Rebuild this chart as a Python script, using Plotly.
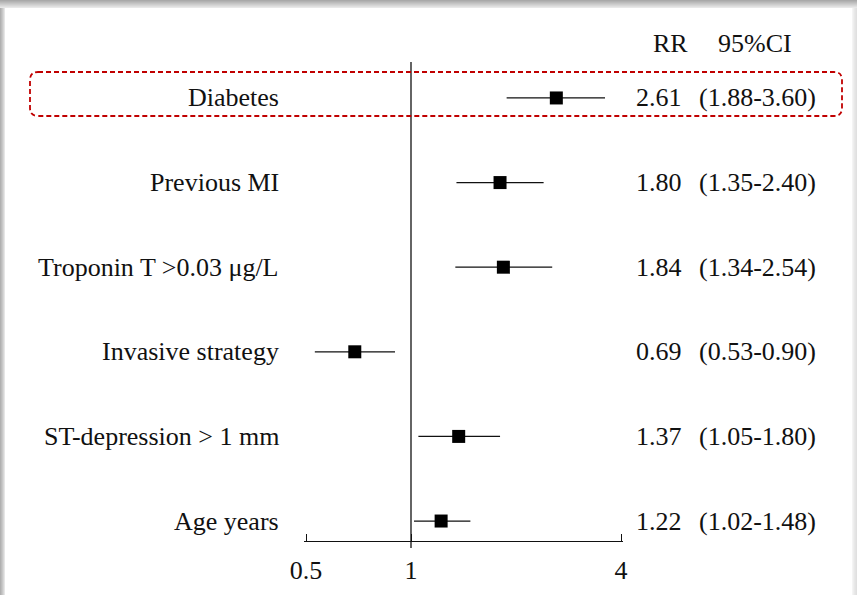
import plotly.graph_objects as go

labels = ["Diabetes", "Previous MI", "Troponin T >0.03 μg/L", "Invasive strategy",
          "ST-depression > 1 mm", "Age years"]
rr = [2.61, 1.80, 1.84, 0.69, 1.37, 1.22]
lo = [1.88, 1.35, 1.34, 0.53, 1.05, 1.02]
hi = [3.60, 2.40, 2.54, 0.90, 1.80, 1.48]
rr_text = ["2.61", "1.80", "1.84", "0.69", "1.37", "1.22"]
ci_text = ["(1.88-3.60)", "(1.35-2.40)", "(1.34-2.54)", "(0.53-0.90)", "(1.05-1.80)", "(1.02-1.48)"]
tick_vals = [0.5, 1, 4]
tick_text = ["0.5", "1", "4"]

n = len(labels)
ypos = [n - 1 - i for i in range(n)]

FONT = "Liberation Serif"
FS = 26
TXT = "#111"

# plot-area geometry (pixels)
L, R, T, B = 304, 857 - 623, 62, 595 - 541
W = 857 - L - R
H = 595 - T - B

def px_x(p):
    return (p - L) / W

def px_y(p):
    return (541 - p) / H

fig = go.Figure()

# whiskers
wx, wy = [], []
for l, h, y in zip(lo, hi, ypos):
    wx += [l, h, None]
    wy += [y, y, None]
fig.add_trace(go.Scatter(x=wx, y=wy, mode="lines", line=dict(color="#111", width=1.3),
                         hoverinfo="skip", showlegend=False, cliponaxis=False))
# squares
fig.add_trace(go.Scatter(x=rr, y=ypos, mode="markers",
                         marker=dict(symbol="square", size=13, color="#000"),
                         showlegend=False, cliponaxis=False))

ann = []
for lab, r, c, y in zip(labels, rr_text, ci_text, ypos):
    ann.append(dict(x=px_x(281), y=y, xref="paper", yref="y", text=lab, showarrow=False,
                    xanchor="right", yanchor="middle", font=dict(family=FONT, size=FS, color=TXT)))
    ann.append(dict(x=px_x(634), y=y, xref="paper", yref="y", text=r, showarrow=False,
                    xanchor="left", yanchor="middle", font=dict(family=FONT, size=FS, color=TXT)))
    ann.append(dict(x=px_x(697), y=y, xref="paper", yref="y", text=c, showarrow=False,
                    xanchor="left", yanchor="middle", font=dict(family=FONT, size=FS, color=TXT)))
ann.append(dict(x=px_x(651), y=px_y(43), xref="paper", yref="paper", text="RR", showarrow=False,
                xanchor="left", yanchor="middle", font=dict(family=FONT, size=FS, color=TXT)))
ann.append(dict(x=px_x(716), y=px_y(43), xref="paper", yref="paper", text="95%CI", showarrow=False,
                xanchor="left", yanchor="middle", font=dict(family=FONT, size=FS, color=TXT)))

shapes = []
# frame shadow (top / left / right)
top_cols = ["#a9a9a9", "#b2b2b2", "#bbbbbb", "#c4c4c4", "#cdcdcd", "#d6d6d6", "#dfdfdf", "#e8e8e8"]
for i, col in enumerate(top_cols):
    shapes.append(dict(type="rect", xref="paper", yref="paper",
                       x0=px_x(0), x1=px_x(857), y0=px_y(i + 1), y1=px_y(i),
                       line=dict(width=0), fillcolor=col, layer="below"))
left_cols = ["#b0b0b0", "#bcbcbc", "#c8c8c8", "#d6d6d6", "#e6e6e6"]
for i, col in enumerate(left_cols):
    shapes.append(dict(type="rect", xref="paper", yref="paper",
                       x0=px_x(i), x1=px_x(i + 1), y0=px_y(595), y1=px_y(8),
                       line=dict(width=0), fillcolor=col, layer="below"))
right_cols = ["#f4f4f4", "#eeeeee", "#e8e8e8", "#e4e4e4", "#e0e0e0"]
for i, col in enumerate(right_cols):
    shapes.append(dict(type="rect", xref="paper", yref="paper",
                       x0=px_x(852 + i), x1=px_x(853 + i), y0=px_y(595), y1=px_y(8),
                       line=dict(width=0), fillcolor=col, layer="below"))

# reference line at 1
shapes.append(dict(type="line", xref="x", yref="paper", x0=1, x1=1, y0=px_y(548), y1=1,
                   line=dict(color="#111", width=1.3)))

# red dashed rounded box around Diabetes
x0, x1 = px_x(30), px_x(842)
y0, y1 = px_y(116), px_y(72)
rx, ry = 8 / W, 8 / H
path = (f"M {x0+rx},{y1} L {x1-rx},{y1} Q {x1},{y1} {x1},{y1-ry} "
        f"L {x1},{y0+ry} Q {x1},{y0} {x1-rx},{y0} L {x0+rx},{y0} "
        f"Q {x0},{y0} {x0},{y0+ry} L {x0},{y1-ry} Q {x0},{y1} {x0+rx},{y1} Z")
shapes.append(dict(type="path", xref="paper", yref="paper", path=path,
                   line=dict(color="#c00000", width=1.8, dash="5px,3px")))

# log range: 0.5 -> px 306, 4 -> px 621 (105 px per doubling)
lg2 = 0.30103
xmin = -lg2 - (306 - L) / 105 * lg2
xmax = 2 * lg2 + (L + W - 621) / 105 * lg2

fig.update_layout(
    width=857, height=595,
    margin=dict(l=L, r=R, t=T, b=B, autoexpand=False),
    paper_bgcolor="white", plot_bgcolor="white",
    shapes=shapes,
    annotations=ann,
    xaxis=dict(type="log", range=[xmin, xmax], tickvals=tick_vals, ticktext=tick_text,
               showgrid=False, zeroline=False, showline=True, linecolor="#111", linewidth=1.3,
               ticks="inside", ticklen=7, tickwidth=1.3, tickcolor="#111",
               ticklabelstandoff=6, automargin=False,
               tickfont=dict(family=FONT, size=FS, color=TXT), fixedrange=True),
    yaxis=dict(range=[-0.236, 5.425], showgrid=False, zeroline=False, showline=False,
               showticklabels=False, ticks="", fixedrange=True, automargin=False),
    showlegend=False,
)

fig.write_html("out.html")
